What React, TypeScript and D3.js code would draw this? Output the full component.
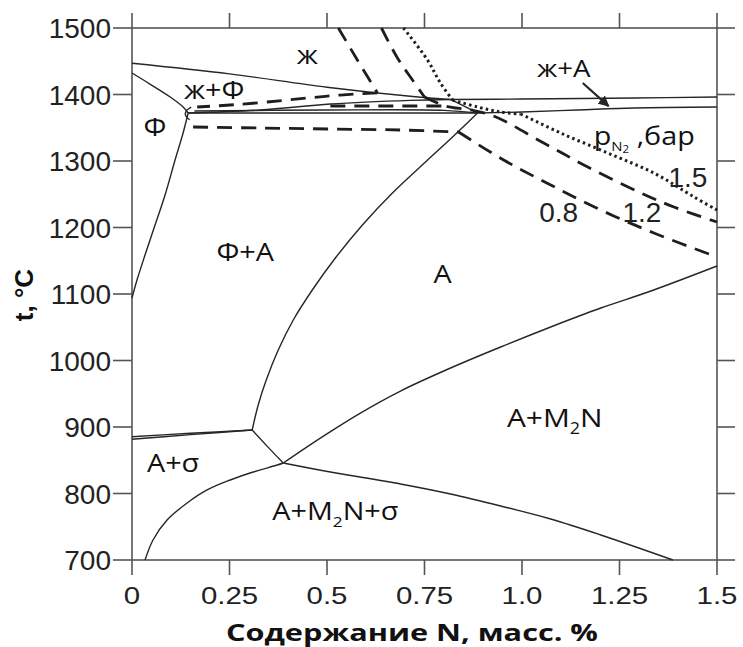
import React from 'react';
import * as d3 from 'd3';

const WIDTH = 743;
const HEIGHT = 647;

const xTickValues = [0, 0.25, 0.5, 0.75, 1.0, 1.25, 1.5];
const xTickLabels = ['0', '0.25', '0.5', '0.75', '1.0', '1.25', '1.5'];
const yTickValues = [700, 800, 900, 1000, 1100, 1200, 1300, 1400, 1500];

type Pt = [number, number]; // [N, масс. %; t, °C]

// Phase boundaries (solid lines)
const liquidusFerrite: Pt[] = [[0, 1447], [0.25, 1431], [0.5, 1411], [0.72, 1397], [0.817, 1392.5]];
const liquidusAustenite: Pt[] = [[0.817, 1392.5], [1.0, 1393.2], [1.29, 1394.7], [1.5, 1396.2]];
const solidusAustenite: Pt[] = [[0.886, 1372.2], [1.0, 1373.7], [1.143, 1376.7], [1.287, 1379.7], [1.5, 1381.2]];
const peritecticLink: Pt[] = [[0.817, 1392.5], [0.886, 1372.2]];
const threePhaseTop: Pt[] = [[0.144, 1372.2], [0.329, 1376.7], [0.509, 1385.7], [0.714, 1391.2], [0.817, 1392.5]];
const threePhaseMid: Pt[] = [[0.16, 1375.2], [0.5, 1376.7], [0.8, 1376.2], [0.886, 1372.2]];
const threePhaseBottom: Pt[] = [[0.144, 1372.2], [0.5, 1372.2], [0.886, 1372.2]];
const solidusFerrite: Pt[] = [[0, 1432.3], [0.046, 1415.7], [0.098, 1396.2], [0.131, 1381.2], [0.144, 1372.2]];
const ferriteSolvus: Pt[] = [[0, 1094], [0.0128, 1121], [0.0334, 1158.6], [0.0591, 1203.8], [0.0848, 1248.9], [0.1104, 1301.5], [0.131, 1342.1], [0.144, 1372.2]];
const cornerArc: Pt[] = [[0.152, 1381], [0.14, 1376], [0.137, 1369], [0.148, 1362]];
const austeniteSolvus: Pt[] = [[0.3082, 895.5], [0.3236, 933.1], [0.3442, 970.7], [0.375, 1015.8], [0.4135, 1060.9], [0.4623, 1106.0], [0.5214, 1154.1], [0.5908, 1203.8], [0.6678, 1251.9], [0.7526, 1298.5], [0.8219, 1336.1], [0.8861, 1372.2]];
const sigmaUpperA: Pt[] = [[0, 885.4], [0.15, 890.5], [0.3082, 895.5]];
const sigmaUpperB: Pt[] = [[0, 881.5], [0.15, 888.5], [0.3082, 895.5]];
const kinkToTriple: Pt[] = [[0.3082, 895.5], [0.35, 869], [0.3878, 845.9]];
const nitrideSolvus: Pt[] = [[0.3878, 845.9], [0.4829, 883.4], [0.5856, 921.0], [0.6884, 954.1], [0.8168, 988.7], [0.9452, 1020.3], [1.0736, 1050.4], [1.2021, 1078.9], [1.3305, 1104.5], [1.5, 1142.1]];
const sigmaSolvus: Pt[] = [[0.0334, 700], [0.0539, 730.1], [0.0899, 760.1], [0.1413, 785.7], [0.1926, 805.3], [0.2517, 820.3], [0.3108, 832.3], [0.3724, 842.8], [0.3878, 845.9]];
const nitrideSigma: Pt[] = [[0.3878, 845.9], [0.5086, 832.3], [0.6884, 814.3], [0.8168, 799.2], [0.9452, 781.2], [1.0736, 761.6], [1.2021, 737.6], [1.387, 700]];

const boundaries: Pt[][] = [
  liquidusFerrite, liquidusAustenite, solidusAustenite, peritecticLink,
  threePhaseTop, threePhaseMid, threePhaseBottom, solidusFerrite, ferriteSolvus,
  cornerArc, austeniteSolvus, sigmaUpperA, sigmaUpperB, kinkToTriple,
  nitrideSolvus, sigmaSolvus, nitrideSigma,
];

// Nitrogen isobars, p(N2) in bar
const isobar08: Pt[][] = [
  [[0.5291, 1500], [0.5779, 1451.9], [0.6293, 1402.3]],
  [[0.6293, 1402.3], [0.5342, 1399.2], [0.4495, 1394.7], [0.3468, 1388.7], [0.2517, 1384.2], [0.167, 1381.2]],
  [[0.1567, 1351.1], [0.3288, 1349.6], [0.5086, 1348.1], [0.6884, 1346.6], [0.8373, 1343.6]],
  [[0.8373, 1343.6], [0.9529, 1301.5], [1.0736, 1263.9], [1.2021, 1226.3], [1.3382, 1191.7], [1.5, 1155.6]],
];
const isobar12: Pt[][] = [
  [[0.6396, 1500], [0.6807, 1454.9], [0.7192, 1421.8], [0.75, 1396.2]],
  [[0.5086, 1382.7], [0.804, 1382.7]],
  [[0.75, 1396.2], [0.804, 1382.7], [0.8682, 1376.7], [0.9272, 1367.7], [1.0557, 1327.1], [1.1687, 1291.0], [1.3048, 1251.9], [1.3896, 1230.8], [1.5, 1208.3]],
];
const isobar15: Pt[][] = [
  [[0.6961, 1500], [0.7577, 1451.9], [0.79, 1418], [0.8219, 1391.7]],
  [[0.8219, 1391.7], [0.8861, 1381.2], [0.9452, 1373.7], [0.9966, 1370.7]],
  [[0.9966, 1370.7], [1.0993, 1342.1], [1.2201, 1312.0], [1.3382, 1281.9], [1.441, 1245.9], [1.5, 1226.3]],
];

// Phase-field names: text ("_x" = subscript), centre N, baseline t
const regionLabels: { text: string; n: number; t: number; size: number }[] = [
  { text: 'ж', n: 0.4495, t: 1446, size: 25 },
  { text: 'ж+Ф', n: 0.2106, t: 1393, size: 25 },
  { text: 'Ф', n: 0.0591, t: 1337, size: 25 },
  { text: 'Ф+A', n: 0.2902, t: 1149, size: 25 },
  { text: 'A', n: 0.7962, t: 1117, size: 25 },
  { text: 'A+M_2N', n: 1.084, t: 900, size: 26 },
  { text: 'A+σ', n: 0.1053, t: 833, size: 25 },
  { text: 'A+M_2N+σ', n: 0.5214, t: 760, size: 25 },
  { text: 'ж+A', n: 1.107, t: 1426, size: 24 },
];

const isobarLabels: { text: string; n: number; t: number }[] = [
  { text: '1.5', n: 1.4255, t: 1261 },
  { text: '0.8', n: 1.0942, t: 1208.5 },
  { text: '1.2', n: 1.3074, t: 1208.5 },
];

const LABEL_FONT = "'Open Sans', sans-serif";
const NUM_FONT = "'Liberation Sans', Arial, sans-serif";
const INK = '#262626';

function splitSub(text: string) {
  const parts: { s: string; sub: boolean }[] = [];
  const re = /_(\w)/g;
  let last = 0;
  let m: RegExpExecArray | null;
  while ((m = re.exec(text))) {
    if (m.index > last) parts.push({ s: text.slice(last, m.index), sub: false });
    parts.push({ s: m[1], sub: true });
    last = m.index + m[0].length;
  }
  if (last < text.length) parts.push({ s: text.slice(last), sub: false });
  return parts;
}

export default function App() {
  const x = d3.scaleLinear().domain([0, 1.5]).range([132, 717]);
  const y = d3.scaleLinear().domain([700, 1500]).range([560, 28]);
  const smooth = d3.line<Pt>().x(d => x(d[0])).y(d => y(d[1])).curve(d3.curveCatmullRom.alpha(0.5));
  const straight = d3.line<Pt>().x(d => x(d[0])).y(d => y(d[1]));

  const [x0, x1] = x.range();
  const [yb, yt] = y.range();

  return (
    <svg width={WIDTH} height={HEIGHT} style={{ position: 'absolute', left: 0, top: 0, background: '#fff' }}>
      <defs>
        <marker id="arrowHead" viewBox="0 0 10 10" refX="9" refY="5" markerWidth="5" markerHeight="5" orient="auto">
          <path d="M0,0 L10,5 L0,10 z" fill={INK} />
        </marker>
      </defs>
      <rect x={0} y={0} width={WIDTH} height={HEIGHT} fill="#fff" />

      {/* frame and ticks */}
      <rect x={x0} y={yt} width={x1 - x0} height={yb - yt} fill="none" stroke="#555" strokeWidth={1.6} />
      {xTickValues.map(v => (
        <g key={'xt' + v} stroke="#555" strokeWidth={1.6}>
          <line x1={x(v)} x2={x(v)} y1={yt} y2={yt - 15} />
          <line x1={x(v)} x2={x(v)} y1={yb} y2={yb + 15} />
        </g>
      ))}
      {yTickValues.map(v => (
        <g key={'yt' + v} stroke="#555" strokeWidth={1.6}>
          <line x1={x0} x2={x0 - 19} y1={y(v)} y2={y(v)} />
          <line x1={x1} x2={x1 + 18} y1={y(v)} y2={y(v)} />
        </g>
      ))}
      {yTickValues.map(v => (
        <text key={'yl' + v} x={111} y={y(v) + 10} textAnchor="end" fontFamily={NUM_FONT} fontSize={28} fill="#222">
          {v}
        </text>
      ))}
      {xTickValues.map((v, i) => (
        <g key={'xl' + v} transform={`translate(${x(v)},${604}) scale(1.2,1)`}>
          <text x={0} y={0} textAnchor="middle" fontFamily={NUM_FONT} fontSize={24.5} fill="#222">
            {xTickLabels[i]}
          </text>
        </g>
      ))}

      {/* axis titles */}
      <text x={226} y={641} fontFamily={LABEL_FONT} fontWeight={700} fontSize={24} fill="#111"
        textLength={372} lengthAdjust="spacingAndGlyphs">
        Содержание N, масс. %
      </text>
      <text transform="translate(33,295) rotate(-90)" textAnchor="middle" fontFamily={NUM_FONT} fontWeight={700} fontSize={26} fill="#111">
        t, °C
      </text>

      {/* phase boundaries */}
      {boundaries.map((pts, i) => (
        <path key={'b' + i} d={(pts.length > 2 ? smooth(pts) : straight(pts)) || ''} fill="none" stroke={INK} strokeWidth={1.4} />
      ))}

      {/* isobars */}
      {isobar08.map((pts, i) => (
        <path key={'i08' + i} d={smooth(pts) || ''} fill="none" stroke="#1e1e1e" strokeWidth={2.8} strokeDasharray="15,9" />
      ))}
      {isobar12.map((pts, i) => (
        <path key={'i12' + i} d={smooth(pts) || ''} fill="none" stroke="#1e1e1e" strokeWidth={2.8} strokeDasharray="15,9" />
      ))}
      {isobar15.map((pts, i) => (
        <path key={'i15' + i} d={smooth(pts) || ''} fill="none" stroke="#1e1e1e" strokeWidth={3} strokeDasharray="2.5,3.2" />
      ))}

      {/* phase-field names */}
      {regionLabels.map((l, i) => (
        <g key={'rl' + i} transform={`translate(${x(l.n)},${y(l.t)}) scale(1.15,1)`}>
          <text x={0} y={0} textAnchor="middle" fontFamily={LABEL_FONT} fontSize={l.size} fill="#111">
            {splitSub(l.text).map((p, j) =>
              p.sub ? (
                <tspan key={j} fontSize={l.size * 0.6} dy={7}>{p.s}</tspan>
              ) : (
                <tspan key={j} dy={j > 0 && splitSub(l.text)[j - 1].sub ? -7 : 0}>{p.s}</tspan>
              )
            )}
          </text>
        </g>
      ))}

      {/* arrow to the narrow ж+A field */}
      <line x1={x(1.1558)} y1={y(1417.3)} x2={x(1.222)} y2={y(1382.5)} stroke={INK} strokeWidth={2.2} markerEnd="url(#arrowHead)" />

      {/* isobar legend */}
      <g transform={`translate(${x(1.184)},${y(1324)}) scale(1.15,1)`}>
        <text x={0} y={0} fontFamily={LABEL_FONT} fontSize={25} fill="#111">
          p
          <tspan fontSize={13} dy={6}>N</tspan>
          <tspan fontSize={10} dy={2}>2</tspan>
          <tspan fontSize={25} dy={-8}> ,бар</tspan>
        </text>
      </g>
      {isobarLabels.map((l, i) => (
        <text key={'il' + i} x={x(l.n)} y={y(l.t)} textAnchor="middle" fontFamily={NUM_FONT} fontSize={28} fill="#222">
          {l.text}
        </text>
      ))}
    </svg>
  );
}
